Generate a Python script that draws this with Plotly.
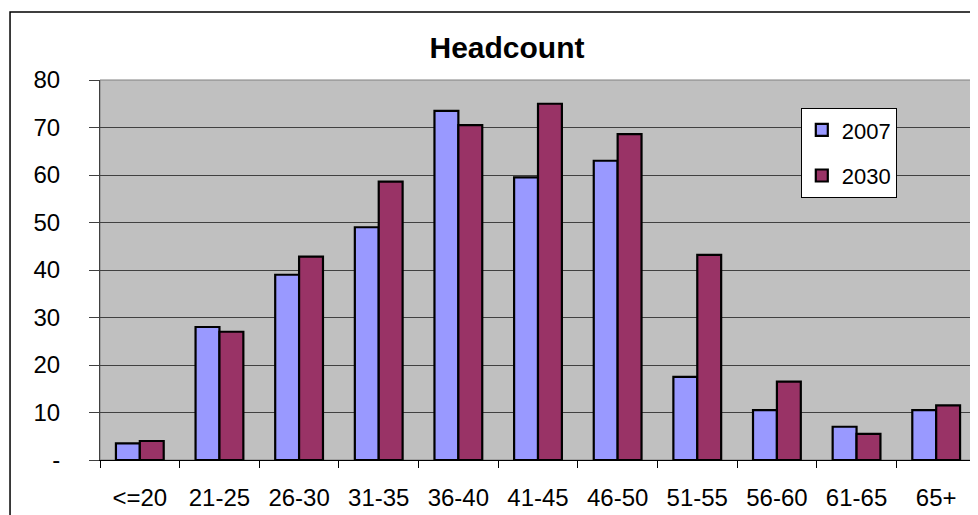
import plotly.graph_objects as go

categories = ["<=20", "21-25", "26-30", "31-35", "36-40", "41-45", "46-50", "51-55", "56-60", "61-65", "65+"]
values_2007 = [3.5, 28, 39, 49, 73.5, 59.5, 63, 17.5, 10.5, 7, 10.5]
values_2030 = [4, 27, 42.8, 58.6, 70.5, 75, 68.6, 43.2, 16.5, 5.5, 11.5]
ytick_vals = [0, 10, 20, 30, 40, 50, 60, 70, 80]
ytick_text = ["-", "10", "20", "30", "40", "50", "60", "70", "80"]

fig = go.Figure()
fig.add_trace(go.Bar(x=categories, y=values_2007, name="2007", legendgroup="a",
                     marker=dict(color="#9999FF", line=dict(color="black", width=2.2))))
fig.add_trace(go.Bar(x=categories, y=values_2030, name="2030", legendgroup="b",
                     marker=dict(color="#993366", line=dict(color="black", width=2.2))))

fig.update_layout(
    width=970, height=507,
    margin=dict(l=92, r=2, t=72, b=55),
    paper_bgcolor="white",
    plot_bgcolor="#C0C0C0",
    font=dict(family="Liberation Sans, Arial, sans-serif", size=24, color="black"),
    title=dict(text="<b>Headcount</b>", x=(507 - 8) / 970, xanchor="center",
               y=1 - 39 / 507, yanchor="middle", font=dict(size=30)),
    bargap=0.4, bargroupgap=0,
    legend=dict(x=0.8, y=0.926, xanchor="left", yanchor="top",
                bgcolor="white", bordercolor="black", borderwidth=1,
                font=dict(size=22), traceorder="grouped", tracegroupgap=14,
                itemwidth=30, entrywidth=62),
    xaxis=dict(showline=True, linecolor="black", linewidth=1,
               ticks="outside", tickson="boundaries", ticklen=7, tickcolor="black",
               ticklabelstandoff=16, showgrid=False),
    yaxis=dict(range=[0, 80], tickvals=ytick_vals, ticktext=ytick_text,
               showline=True, linecolor="#404040", linewidth=1,
               ticks="outside", ticklen=10, tickcolor="#404040",
               ticklabelstandoff=24,
               showgrid=True, gridcolor="#404040", gridwidth=1, zeroline=False),
)
# plot area border (grey)
fig.add_shape(type="rect", xref="paper", yref="paper", x0=0, x1=1, y0=0, y1=1,
              line=dict(color="#808080", width=1), layer="below")
# chart area border
fig.add_shape(type="rect", xref="paper", yref="paper", x0=-0.1027, x1=1.1, y0=-0.3, y1=1.179,
              line=dict(color="black", width=1.5), layer="below")

fig.write_html("out.html")
